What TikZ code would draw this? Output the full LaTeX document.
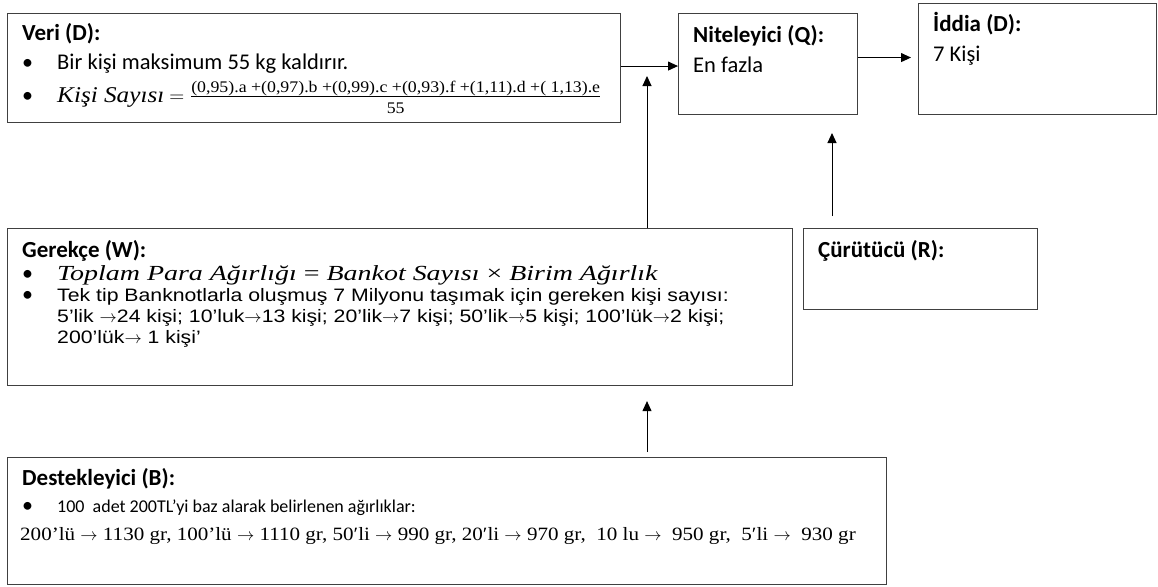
\documentclass[tikz,border=0pt]{standalone}
\usepackage{amsmath}
\usepackage{fontspec}
\setmainfont{Carlito}
\newfontfamily\arialfont[FakeStretch=1.18]{Liberation Sans}
\newfontfamily\mathitfont[FakeStretch=1.12]{Liberation Serif}
\newfontfamily\warfont[FakeStretch=1.3]{Liberation Serif}
\newfontfamily\calcfont[FakeStretch=1.1]{Liberation Serif}
\usetikzlibrary{arrows.meta, positioning, calc}
\definecolor{framegray}{HTML}{404040}
\newcommand{\bul}{\makebox[35pt][l]{\fontsize{22}{26}\rmfamily\selectfont •}}
\newcommand{\ra}{$\rightarrow$}

\begin{document}
\begin{tikzpicture}[
    x=1pt, y=-1pt,
    tmbox/.style={rectangle, draw=framegray, line width=1.1pt, inner sep=0pt, anchor=north west},
    ln/.style={anchor=base west, inner sep=0pt, font=\fontsize{22.5}{26}\selectfont},
    head/.style={ln, font=\fontsize{23}{26}\selectfont\bfseries},
    arialln/.style={anchor=base west, inner sep=0pt, font=\arialfont\fontsize{18}{21}\selectfont},
    arr/.style={-{Triangle[length=10pt, width=9pt]}, line width=1pt},
]
    \useasboundingbox (0,0) rectangle (1158,586);

    % ── Coordinates: text columns ──
    \def\colL{22}
    \def\colT{57}

    % ── BOXES ──
    \node[tmbox, minimum width=613pt, minimum height=109pt] (veri)    at (7,13)   {};
    \node[tmbox, minimum width=179pt, minimum height=101pt] (nitel)   at (678,13) {};
    \node[tmbox, minimum width=238pt, minimum height=111pt] (iddia)   at (918,3)  {};
    \node[tmbox, minimum width=785pt, minimum height=157pt] (gerekce) at (7,228)  {};
    \node[tmbox, minimum width=234pt, minimum height=81pt]  (curut)   at (803,228) {};
    \node[tmbox, minimum width=879pt, minimum height=127pt] (destek)  at (7,457)  {};

    % ── VERI ──
    \node[head] (veri-h) at (\colL,41) {Veri (D):};
    \node[ln]   (veri-1) at (\colL,69) {\bul Bir kişi maksimum 55 kg kaldırır.};
    \node[ln]   (veri-2) at (\colL,102) {\bul {\mathitfont\itshape Kişi Sayısı} $=\frac{\hbox{\calcfont\fontsize{16.2}{18}\selectfont (0,95).a +(0,97).b +(0,99).c +(0,93).f +(1,11).d +( 1,13).e}}{\hbox{\rule{0pt}{15.5pt}\calcfont\fontsize{16.2}{18}\selectfont 55}}$};

    % ── NITELEYICI / IDDIA ──
    \node[head] (nitel-h) at (693,42) {Niteleyici (Q):};
    \node[ln]   (nitel-1) at (693,72) {En fazla};
    \node[head] (iddia-h) at (933,32) {İddia (D):};
    \node[ln]   (iddia-1) at (933,62) {7 Kişi};

    % ── GEREKCE ──
    \node[head]    (ger-h) at (\colL,257) {Gerekçe (W):};
    \node[ln]      (ger-1) at (\colL,280) {\bul {\warfont\fontsize{21.5}{23}\selectfont\itshape Toplam Para Ağırlığı \upshape= \itshape Bankot Sayısı \upshape× \itshape Birim Ağırlık}};
    \node[arialln] (ger-2) at (\colL,301) {\bul Tek tip Banknotlarla oluşmuş 7 Milyonu taşımak için gereken kişi sayısı:};
    \node[arialln] (ger-3) at (\colT,322) {5’lik \ra24 kişi; 10’luk\ra13 kişi; 20’lik\ra7 kişi; 50’lik\ra5 kişi; 100’lük\ra2 kişi;};
    \node[arialln] (ger-4) at (\colT,343) {200’lük\ra\ 1 kişi’};

    % ── CURUTUCU ──
    \node[head] (curut-h) at (818,257) {Çürütücü (R):};

    % ── DESTEKLEYICI ──
    \node[head] (dest-h) at (\colL,485) {Destekleyici (B):};
    \node[ln, font=\fontsize{18}{21}\selectfont] (dest-1) at (\colL,512) {\bul 100 \ adet 200TL’yi baz alarak belirlenen ağırlıklar:};
    \node[ln, font=\mathitfont\fontsize{18.8}{21}\selectfont] (dest-2) at (20,540) {200’lü \ra\ 1130 gr, 100’lü \ra\ 1110 gr, 50′li \ra\ 990 gr, 20′li \ra\ 970 gr, \ 10 lu \ra\ \ 950 gr, \ 5′li \ra\ \ 930 gr};

    % Arrows: data and qualifier to claim
    \draw[arr] ([yshift=2pt]veri.east) -- ([yshift=2pt]veri.east -| nitel.west);
    \draw[arr, shorten >=7pt] ([yshift=6.5pt]nitel.east) -- ([yshift=6.5pt]nitel.east -| iddia.west);

    % Arrows: warrant, rebuttal, backing
    \coordinate (wtip) at (647,76);
    \coordinate (rtip) at (832,133);
    \draw[arr] (wtip |- gerekce.north) -- (wtip);
    \draw[arr] ([yshift=12pt]rtip |- curut.north) -- (rtip);
    \draw[arr] ([yshift=5pt]wtip |- destek.north) -- ([yshift=-15pt]wtip |- gerekce.south);

\end{tikzpicture}
\end{document}
